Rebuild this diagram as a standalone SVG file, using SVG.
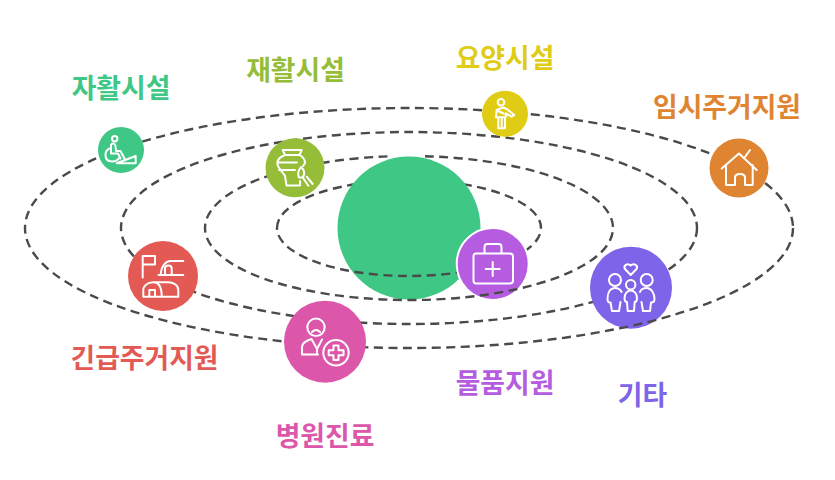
<svg xmlns="http://www.w3.org/2000/svg" width="835" height="480" viewBox="0 0 835 480">
<defs>
<clipPath id="upper"><rect x="0" y="0" width="835" height="228"/></clipPath>
<clipPath id="lower"><rect x="0" y="228" width="835" height="252"/></clipPath>
<path id="orbit1" d="M277 228A132 48 0 1 1 541 228A132 48 0 1 1 277 228Z"/>
<path id="orbit2" d="M425 156.220A204 72 0 1 1 392 156.250"/>
</defs>
<style>
.orbit{fill:none;stroke:#4a4a4a;stroke-width:2.4;stroke-dasharray:9 5.500}
.ic{fill:none;stroke:#fff;stroke-width:2;stroke-linejoin:round;stroke-linecap:round}
.t{font-family:"Noto Sans CJK KR","Noto Sans",sans-serif;font-weight:700;font-size:26.800px;text-anchor:middle}
</style>
<rect width="835" height="480" fill="#fff"/>
<g id="connectors-behind">
<use href="#orbit1" class="orbit" clip-path="url(#upper)"/>
<use href="#orbit2" class="orbit" clip-path="url(#upper)"/>
</g>
<g id="center"><circle cx="409" cy="228" r="71.500" fill="#3ec785"/></g>
<g id="connectors-inner"><use href="#orbit1" class="orbit" clip-path="url(#lower)"/></g>
<g id="node-supplies">
<circle cx="492.700" cy="264" r="36" fill="#b55ce0" stroke="#fff" stroke-width="2"/>
<path class="ic" d="M476 253.500H510Q513 253.500 513 256.500V280.500Q513 283.500 510 283.500H476Q473.500 283.500 473.500 280.500V256.500Q473.500 253.500 476 253.500ZM484.500 253.500V247Q484.500 244 487.500 244H498.500Q501.500 244 501.500 247V253.500M492.700 262V276M485.700 269H499.700"/>
<text class="t" x="505" y="393" fill="#b55ce0">물품지원</text>
</g>
<g id="connectors">
<use href="#orbit2" class="orbit" clip-path="url(#lower)"/>
<ellipse class="orbit" cx="409" cy="228" rx="288" ry="96"/>
</g>
<g id="node-other">
<circle cx="631" cy="287.700" r="41" fill="#7e64e8"/>
<path class="ic" d="M630.700 275L625 269C623 265.500 627.500 262.500 630.700 265.500C634 262.500 638.500 265.500 636.500 269Z"/>
<circle class="ic" cx="615" cy="280" r="6"/><circle class="ic" cx="630.700" cy="284.700" r="4.700"/><circle class="ic" cx="646.700" cy="280" r="6"/>
<path class="ic" d="M621.700 292C620 289 617 288 615 288C610 288 607.500 293 607.500 299C607.500 302 608.500 302.500 610.500 302.500L612 311H619L620.500 302M630.700 290.500C627 290.500 624.500 294 624.500 298C624.500 301 626 302 627 302L627.700 311H634L634.700 302C636 302 637 301 637 298C637 294 634.500 290.500 630.700 290.500ZM640 292C641 289 644 288 646.700 288C651 288 654.500 293 654.500 299C654.500 302 653 302.500 651 302.500L650 311H643L641.500 302"/>
<text class="t" x="642.500" y="405" fill="#7e64e8">기타</text>
</g>
<g id="connectors-outer"><ellipse class="orbit" cx="409" cy="228" rx="384" ry="120"/></g>
<g id="node-rehab-green">
<circle cx="121" cy="150" r="23" fill="#3ec785"/>
<circle class="ic" cx="114.700" cy="138.700" r="2.700"/>
<path class="ic" d="M111 144.500Q114.500 142 115.500 146L116 151H120.500L124.500 158.500M111 144.500V153.500H118L120.500 158.500M109.500 148.500C104 151 103.500 161.500 112 161.500C115.500 161.500 118 160 119.500 157.500M116.700 163.300L135.700 156V163.300Z"/>
<text class="t" x="121" y="98" fill="#3ec785">자활시설</text>
</g>
<g id="node-rehab-olive">
<circle cx="295" cy="167.700" r="29.500" fill="#95bd38"/>
<path class="ic" d="M282.700 150H301.700L299.500 155H285ZM285 155C280 157 277.300 160 277.300 163C277.300 168 283 172 285 176L286.500 185.500H300V181M299.500 155C303 157 305 160 305 163L303 166M279 170H295M279 162.500H297"/>
<path class="ic" d="M299 177.500C297 173.500 299 169.500 301 167C304 169.500 305 173.500 303 177.500ZM303.300 178.300L308.300 185.700M306.700 176.700L312.700 184"/>
<text class="t" x="295.500" y="80" fill="#95bd38">재활시설</text>
</g>
<g id="node-care">
<circle cx="505" cy="113.700" r="23" fill="#e0cc15"/>
<circle class="ic" cx="501" cy="102.300" r="3.300"/>
<path class="ic" d="M496.700 110L503 107.500L506.700 109L514.300 115L511.700 116.700L505.700 113.300V117.300H498.300V128.300H505V117.300M498.300 117.300H496L496.700 110M501.700 117.300V128.300M497 110.500L503.500 113.500"/>
<text class="t" x="505" y="68" fill="#e0cc15">요양시설</text>
</g>
<g id="node-temp">
<circle cx="739" cy="168" r="29.500" fill="#df8431"/>
<path class="ic" d="M721.700 168.500L739 153.500L756.700 170M726 165V185H735V177.500Q735 174 740 174Q745 174 745 177.500V185H752.700V165M745 157L750 150"/>
<text class="t" x="727" y="117" fill="#df8431">임시주거지원</text>
</g>
<g id="node-emergency">
<circle cx="163" cy="276" r="35" fill="#e35a55"/>
<path class="ic" d="M142.700 277.500V256H155V264.500H142.700M158.500 275H183.300M160.700 275C161 267 165 261 171 261H183.300M165 275V268.500Q165 265.500 168.300 265.500Q171.700 265.500 171.700 268.500V275M143.300 296.700H178.300V290C178.300 285 173 282.300 168.300 282.300H153.300C147 282.300 143.300 286 143.300 290ZM153.300 282.300C158 282.300 161.700 286 161.700 296.700M149.300 296.700V290H155V296.700"/>
<text class="t" x="144.500" y="368" fill="#e35a55">긴급주거지원</text>
</g>
<g id="node-hospital">
<circle cx="325" cy="341.700" r="41" fill="#dc57aa"/>
<circle class="ic" cx="316" cy="327.300" r="8.700"/>
<path class="ic" d="M312 332Q316 328 320 332M302 354.500V347Q302 342 311.500 339L317 349L322 339.500M302 354.500H318M317 349V354.500"/>
<circle class="ic" cx="336" cy="352.700" r="12.700"/>
<path class="ic" d="M333.500 345.500H338.500V350.200H343.500V355.200H338.500V360H333.500V355.200H328.700V350.200H333.500Z"/>
<text class="t" x="325" y="446" fill="#dc57aa">병원진료</text>
</g>
</svg>
